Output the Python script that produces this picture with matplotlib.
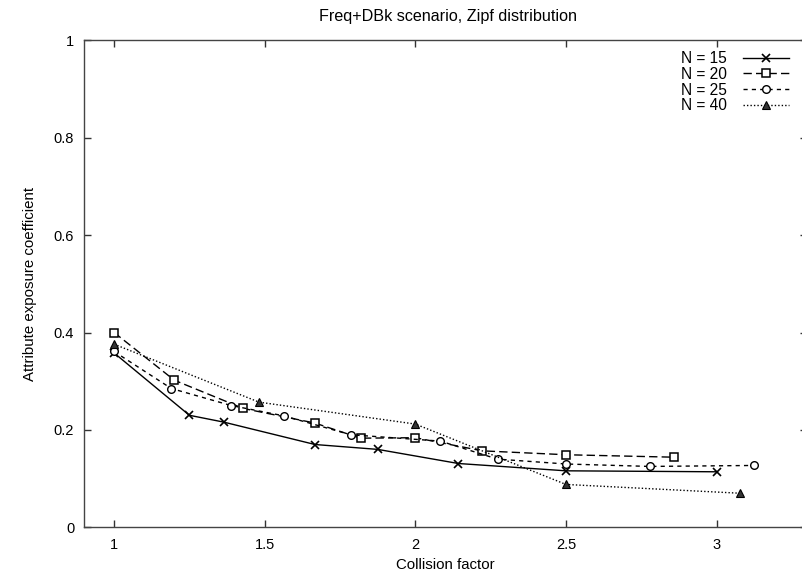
import matplotlib
matplotlib.use("Agg")
import matplotlib.pyplot as plt

plt.rcParams['font.family'] = ['Liberation Sans', 'DejaVu Sans']

# collision factor = N / k, attribute exposure coefficient per N
x_n15 = [1.0, 1.25, 1.364, 1.667, 1.875, 2.143, 2.5, 3.0]
y_n15 = [0.358, 0.230, 0.216, 0.170, 0.160, 0.131, 0.116, 0.114]

x_n20 = [1.0, 1.2, 1.429, 1.667, 1.818, 2.0, 2.222, 2.5, 2.857]
y_n20 = [0.400, 0.302, 0.244, 0.214, 0.183, 0.184, 0.157, 0.149, 0.144]

x_n25 = [1.0, 1.19, 1.389, 1.5625, 1.786, 2.083, 2.273, 2.5, 2.778, 3.125]
y_n25 = [0.361, 0.285, 0.250, 0.229, 0.190, 0.177, 0.140, 0.130, 0.125, 0.127]

x_n40 = [1.0, 1.481, 2.0, 2.5, 3.077]
y_n40 = [0.376, 0.257, 0.212, 0.088, 0.070]

x_ticks = [1, 1.5, 2, 2.5, 3]
y_ticks = [0, 0.2, 0.4, 0.6, 0.8, 1]

fig = plt.figure(figsize=(8.02, 5.78), dpi=100)
ax = fig.add_axes([0.1047, 0.0877, 0.9015, 0.8426])

ax.plot(x_n15, y_n15, color='black', lw=1.0, ls='-',
        marker='x', ms=5.5, mew=1.2, label='N = 15')
ax.plot(x_n20, y_n20, color='black', lw=1.0, ls=(0, (6, 3)),
        marker='s', ms=5.5, mfc='white', mec='black', mew=1.1, label='N = 20')
ax.plot(x_n25, y_n25, color='black', lw=1.0, ls=(0, (3, 3)),
        marker='o', ms=5.5, mfc='white', mec='black', mew=1.0, label='N = 25')
ax.plot(x_n40, y_n40, color='black', lw=1.0, ls=(0, (1, 1.5)),
        marker='^', ms=6, mfc='#333333', mec='black', mew=0.8, label='N = 40')

ax.set_xlim(0.9, 3.3)
ax.set_ylim(0, 1)
ax.set_xticks(x_ticks)
ax.set_xticklabels(['1', '1.5', '2', '2.5', '3'])
ax.set_yticks(y_ticks)
ax.set_yticklabels(['0', '0.2', '0.4', '0.6', '0.8', '1'])
ax.tick_params(direction='in', length=5, width=1, top=True, right=True,
               labelsize=10.5, colors='#333333', labelcolor='black')
ax.tick_params(axis='x', pad=8)
ax.tick_params(axis='y', pad=7)
for s in ax.spines.values():
    s.set_color('#444444')
    s.set_linewidth(1.0)

ax.set_xlabel('Collision factor', fontsize=10.8, labelpad=4)
ax.set_ylabel('Attribute exposure coefficient', fontsize=10.8, labelpad=12)
ax.set_title('Freq+DBk scenario, Zipf distribution', fontsize=11.6, pad=14,
             x=0.503)

ax.legend(loc='upper right', bbox_to_anchor=(0.994, 0.925),
          bbox_transform=fig.transFigure, frameon=False, markerfirst=False,
          handlelength=3.0, handletextpad=1.0, labelspacing=0.05,
          borderpad=0, fontsize=11.2)

fig.savefig('out.png', dpi=100)
